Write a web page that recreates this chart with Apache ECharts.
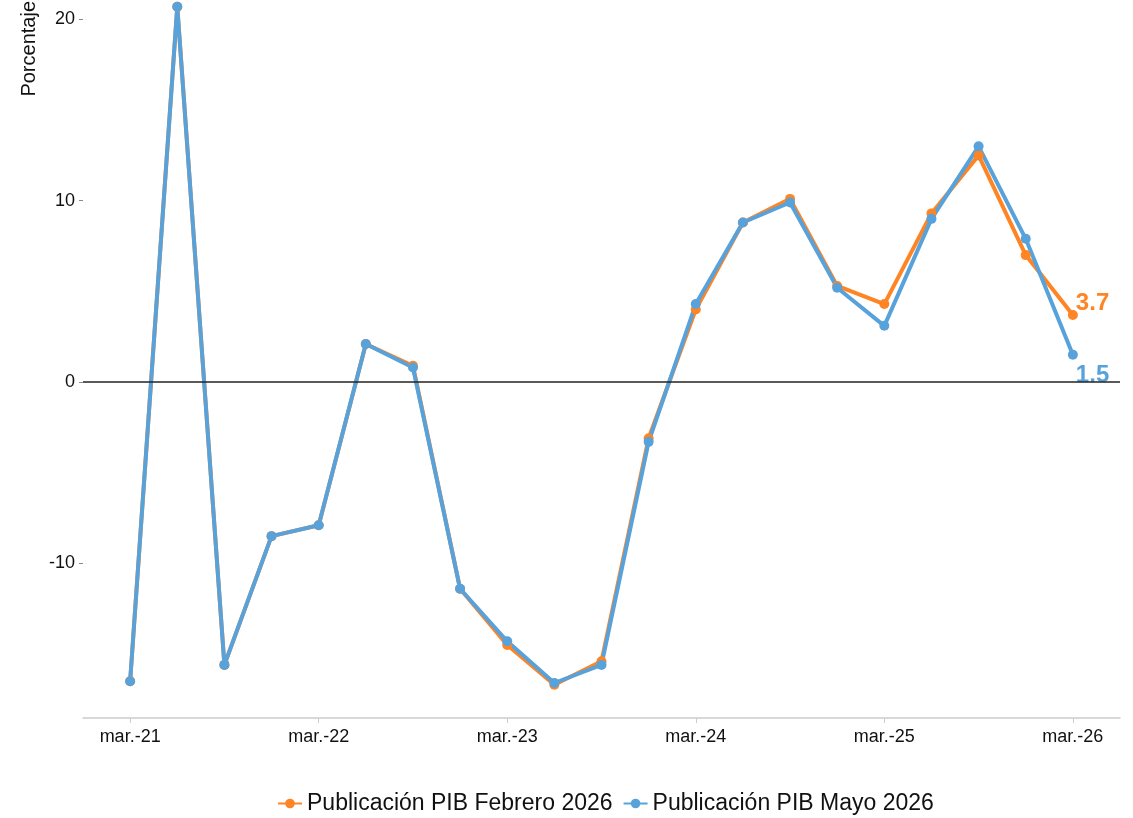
<!DOCTYPE html>
<html>
<head>
<meta charset="utf-8">
<script src="https://cdn.jsdelivr.net/npm/echarts@6/dist/echarts.min.js"></script>
<style>
  html, body { margin: 0; padding: 0; background: #fff; }
  #chart { width: 1133px; height: 818px; }
</style>
</head>
<body>
<div id="chart"></div>
<script>
// quarters, padded with an empty slot at each end
const quarters = ['', 'mar.-21', 'jun.-21', 'sep.-21', 'dic.-21', 'mar.-22', 'jun.-22', 'sep.-22', 'dic.-22',
  'mar.-23', 'jun.-23', 'sep.-23', 'dic.-23', 'mar.-24', 'jun.-24', 'sep.-24', 'dic.-24',
  'mar.-25', 'jun.-25', 'sep.-25', 'dic.-25', 'mar.-26', '']

const pibFebrero = [null, -16.5, 20.7, -15.6, -8.5, -7.9, 2.1, 0.9, -11.4,
  -14.5, -16.7, -15.4, -3.1, 4.0, 8.8, 10.1, 5.3, 4.3, 9.3, 12.5, 7.0, 3.7, null]
const pibMayo = [null, -16.5, 20.7, -15.6, -8.5, -7.9, 2.1, 0.8, -11.4,
  -14.3, -16.6, -15.6, -3.3, 4.3, 8.8, 9.9, 5.2, 3.1, 9.0, 13.0, 7.9, 1.5, null]

const yTicks = [-10, 0, 10, 20]

const orange = '#ff8424'
const blue = '#58a2db'
const font = 'Liberation Sans, Arial, sans-serif'

const chart = echarts.init(document.getElementById('chart'))

const showEvery4 = (idx) => idx >= 1 && (idx - 1) % 4 === 0

function lastLabel(data, color, offset) {
  const last = data.length - 2
  return data.map((v, i) => {
    if (i !== last) return v
    return {
      value: v,
      label: {
        show: true,
        position: 'right',
        offset: offset,
        formatter: (p) => p.value.toFixed(1),
        color: color,
        fontSize: 24,
        fontWeight: 'bold',
        fontFamily: font
      }
    }
  })
}

chart.setOption({
  animation: false,
  grid: { left: 83, right: 13, top: 0, bottom: 100 },
  legend: {
    bottom: -2,
    left: 272,
    itemWidth: 24,
    itemHeight: 12,
    itemGap: 10,
    textStyle: { fontSize: 23, color: '#111', fontFamily: font },
    data: ['Publicación PIB Febrero 2026', 'Publicación PIB Mayo 2026']
  },
  graphic: [{
    type: 'text',
    left: 19,
    top: 1,
    rotation: Math.PI / 2,
    style: { text: 'Porcentaje', fontSize: 20, fill: '#111', fontFamily: font }
  }],
  xAxis: {
    type: 'category',
    data: quarters,
    boundaryGap: false,
    axisLine: { show: true, onZero: false, lineStyle: { color: '#cccccc', width: 1.5 } },
    axisTick: { show: true, interval: showEvery4, length: 5, lineStyle: { color: '#cccccc' } },
    axisLabel: { interval: showEvery4, fontSize: 18, color: '#111', margin: 10, fontFamily: font },
    splitLine: { show: false }
  },
  yAxis: {
    type: 'value',
    min: -18.53,
    max: 21.07,
    axisLine: { show: false },
    axisTick: { show: true, length: 4, customValues: yTicks, lineStyle: { color: '#888' } },
    axisLabel: { customValues: yTicks, fontSize: 18, color: '#111', margin: 8, fontFamily: font },
    splitLine: { show: false }
  },
  series: [
    {
      name: 'Publicación PIB Febrero 2026',
      type: 'line',
      data: lastLabel(pibFebrero, orange, [-7, -12]),
      color: orange,
      symbol: 'circle',
      symbolSize: 10,
      lineStyle: { width: 4 },
      markLine: {
        silent: true,
        symbol: 'none',
        label: { show: false },
        lineStyle: { color: '#222', width: 1.5, type: 'solid' },
        data: [{ yAxis: 0 }]
      }
    },
    {
      name: 'Publicación PIB Mayo 2026',
      type: 'line',
      data: lastLabel(pibMayo, blue, [-7, 21]),
      color: blue,
      symbol: 'circle',
      symbolSize: 10,
      lineStyle: { width: 4 }
    }
  ]
})
</script>
</body>
</html>
